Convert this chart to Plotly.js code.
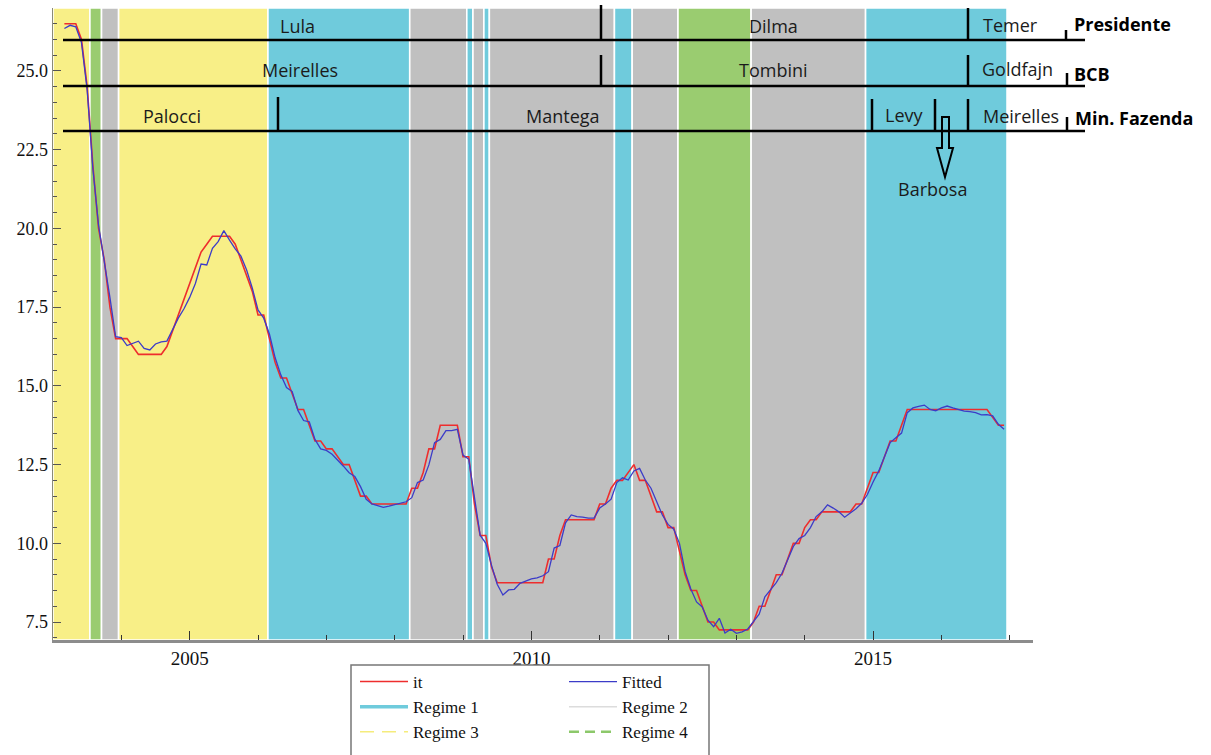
<!DOCTYPE html>
<html>
<head>
<meta charset="utf-8">
<script src="https://cdn.plot.ly/plotly-3.0.1.min.js"></script>
<style>html,body{margin:0;padding:0;background:#fff;}#chart{width:1211px;height:755px;}</style>
</head>
<body>
<div id="chart"></div>
<script>
// ---- data ----
var startYear = 2003, startMonth = 3; // first observation: March 2003, monthly

var itSeries = [
  26.5, 26.5, 26.5, 26.0, 24.5, 22.0, 20.0, 19.0, 17.5, 16.5,
  16.5, 16.5, 16.25, 16.0, 16.0, 16.0, 16.0, 16.0, 16.25, 16.75, 17.25, 17.75,
  18.25, 18.75, 19.25, 19.5, 19.75, 19.75, 19.75, 19.75, 19.5, 19.0, 18.5, 18.0,
  17.25, 17.25, 16.5, 15.75, 15.25, 15.25, 14.75, 14.25, 14.25, 13.75, 13.25, 13.25,
  13.0, 13.0, 12.75, 12.5, 12.5, 12.0, 11.5, 11.5, 11.25, 11.25, 11.25, 11.25,
  11.25, 11.25, 11.25, 11.75, 11.75, 12.25, 13.0, 13.0, 13.75, 13.75, 13.75, 13.75,
  12.75, 12.75, 11.25, 10.25, 10.25, 9.25, 8.75, 8.75, 8.75, 8.75, 8.75, 8.75,
  8.75, 8.75, 8.75, 9.5, 9.5, 10.25, 10.75, 10.75, 10.75, 10.75, 10.75, 10.75,
  11.25, 11.25, 11.75, 12.0, 12.0, 12.25, 12.5, 12.0, 12.0, 11.5, 11.0, 11.0,
  10.5, 10.5, 9.75, 9.0, 8.5, 8.5, 8.0, 7.5, 7.5, 7.25, 7.25, 7.25,
  7.25, 7.25, 7.25, 7.5, 8.0, 8.0, 8.5, 9.0, 9.0, 9.5, 10.0, 10.0,
  10.5, 10.75, 10.75, 11.0, 11.0, 11.0, 11.0, 11.0, 11.0, 11.25, 11.25, 11.75,
  12.25, 12.25, 12.75, 13.25, 13.25, 13.75, 14.25, 14.25, 14.25, 14.25, 14.25, 14.25,
  14.25, 14.25, 14.25, 14.25, 14.25, 14.25, 14.25, 14.25, 14.25, 14.0, 13.75, 13.75
];

var fittedSeries = [
  26.35, 26.45, 26.4, 25.9, 24.4, 21.9, 20.1, 19.0, 17.8, 16.56,
  16.53, 16.28, 16.35, 16.42, 16.19, 16.14, 16.33, 16.4, 16.42, 16.8, 17.15, 17.45,
  17.81, 18.25, 18.87, 18.84, 19.37, 19.58, 19.93, 19.63, 19.35, 19.12, 18.68, 18.1,
  17.41, 17.15, 16.65, 15.9, 15.35, 14.95, 14.82, 14.22, 13.9, 13.86, 13.3, 13.0,
  12.95, 12.83, 12.65, 12.45, 12.24, 12.12, 11.8, 11.4, 11.25, 11.2, 11.14, 11.18,
  11.22, 11.27, 11.32, 11.45, 11.93, 12.01, 12.49, 13.2, 13.3, 13.58, 13.58, 13.62,
  12.8, 12.67, 11.4, 10.26, 10.0, 9.3, 8.7, 8.36, 8.52, 8.54, 8.73, 8.8,
  8.87, 8.9, 8.97, 9.1, 9.85, 9.93, 10.65, 10.9, 10.85, 10.83, 10.8, 10.8,
  11.12, 11.25, 11.4, 11.93, 12.08, 12.01, 12.3, 12.38, 12.01, 11.75, 11.35, 10.9,
  10.6, 10.45, 10.0, 9.1, 8.55, 8.14, 7.98, 7.56, 7.35, 7.62, 7.15, 7.27,
  7.14, 7.19, 7.28, 7.5, 7.75, 8.3, 8.52, 8.75, 9.05, 9.5, 9.9, 10.15,
  10.25, 10.5, 10.85, 11.0, 11.22, 11.12, 11.0, 10.83, 10.97, 11.1, 11.27, 11.55,
  11.95, 12.3, 12.75, 13.2, 13.35, 13.5, 14.15, 14.3, 14.35, 14.39, 14.25, 14.21,
  14.3, 14.36, 14.3, 14.24, 14.2, 14.18, 14.15, 14.08, 14.09, 14.05, 13.78, 13.62
];

// regime periods (decimal years): band i spans regimeEdges[i]..regimeEdges[i+1]
var regimeEdges = [2003.0, 2003.54, 2003.71, 2003.96, 2006.145, 2008.22, 2009.055, 2009.145,
                   2009.305, 2009.385, 2011.215, 2011.475, 2012.145, 2013.215, 2014.89, 2016.96];
var regimeIds   = [3, 4, 2, 3, 1, 2, 1, 2, 1, 2, 1, 2, 4, 2, 1];
var regimeNames = ['Regime 1', 'Regime 2', 'Regime 3', 'Regime 4'];

var xTickLabels = ['2005', '2010', '2015'];

// ---- build ----
var xs = itSeries.map(function (_, i) { return startYear + (startMonth - 1 + i) / 12; });

var bandColors = {1: '#6fcbdc', 2: '#c0c0c0', 3: '#f8ef87', 4: '#9acc70'};
var shapes = [];
for (var i = 0; i < regimeIds.length; i++) {
  shapes.push({type: 'rect', xref: 'x', yref: 'paper', x0: regimeEdges[i], x1: regimeEdges[i + 1],
    y0: 0, y1: 1, fillcolor: bandColors[regimeIds[i]], line: {color: '#ffffff', width: 1.6}, layer: 'below'});
}

function P(px) { return (px - 53) / 980; }
function Q(py) { return (640 - py) / 632; }
function seg(x0, y0, x1, y1) {
  return {type: 'line', xref: 'paper', yref: 'paper', x0: P(x0), y0: Q(y0), x1: P(x1), y1: Q(y1),
          line: {color: '#000', width: 2.5}, layer: 'above'};
}
// office timelines
shapes.push(seg(63, 40, 1085, 40));
shapes.push(seg(63, 86, 1085, 86));
shapes.push(seg(63, 131, 1085, 131));
shapes.push(seg(601, 5, 601, 40));
shapes.push(seg(968, 8, 968, 40));
shapes.push(seg(1066, 30, 1066, 40));
shapes.push(seg(601, 55, 601, 86));
shapes.push(seg(968, 55, 968, 86));
shapes.push(seg(1067, 73, 1067, 86));
shapes.push(seg(278, 97, 278, 131));
shapes.push(seg(872, 99, 872, 131));
shapes.push(seg(935, 99, 935, 131));
shapes.push(seg(968, 99, 968, 131));
shapes.push(seg(1067, 117, 1067, 131));
// hollow arrow to Barbosa
shapes.push({type: 'path', xref: 'paper', yref: 'paper', layer: 'above',
  path: 'M' + P(942) + ',' + Q(117) + ' L' + P(949) + ',' + Q(117) + ' L' + P(949) + ',' + Q(148) +
        ' L' + P(953) + ',' + Q(148) + ' L' + P(945) + ',' + Q(177) + ' L' + P(937) + ',' + Q(148) +
        ' L' + P(942) + ',' + Q(148) + ' Z',
  line: {color: '#000', width: 2}, fillcolor: 'rgba(0,0,0,0)'});
// legend frame
shapes.push({type: 'rect', xref: 'paper', yref: 'paper', x0: P(351), x1: P(709), y0: Q(800), y1: Q(665),
  line: {color: '#777', width: 1.5}, fillcolor: 'rgba(0,0,0,0)', layer: 'above'});

var lblFont = {family: 'Open Sans, sans-serif', size: 18, color: '#1b1b1b'};
var boldFont = {family: 'Open Sans, sans-serif', size: 18, color: '#000'};
function ann(text, px, py, xanchor, font) {
  return {text: text, xref: 'paper', yref: 'paper', x: P(px), y: Q(py), xanchor: xanchor || 'center',
          yanchor: 'middle', showarrow: false, font: font || lblFont};
}
var annotations = [
  ann('Lula', 297, 26), ann('Dilma', 773, 26), ann('Temer', 1010, 25),
  ann('<b>Presidente</b>', 1072, 24, 'left', boldFont),
  ann('Meirelles', 300, 70), ann('Tombini', 773, 70), ann('Goldfajn', 1017, 69),
  ann('<b>BCB</b>', 1072, 74, 'left', boldFont),
  ann('Palocci', 172, 116), ann('Mantega', 563, 116), ann('Levy', 904, 115), ann('Meirelles', 1021, 116),
  ann('<b>Min. Fazenda</b>', 1073, 118, 'left', boldFont),
  ann('Barbosa', 932, 189)
];

var traces = [
  {x: xs, y: itSeries, type: 'scatter', mode: 'lines', name: 'it', legend: 'legend',
   line: {color: 'rgb(238,45,45)', width: 1.6}},
  {x: [null], y: [null], type: 'scatter', mode: 'lines', name: regimeNames[0], legend: 'legend',
   line: {color: '#6fcbdc', width: 3.5}},
  {x: [null], y: [null], type: 'scatter', mode: 'lines', name: regimeNames[2], legend: 'legend',
   line: {color: '#f5ec7c', width: 1.5, dash: '14px,8px'}},
  {x: xs, y: fittedSeries, type: 'scatter', mode: 'lines', name: 'Fitted', legend: 'legend2',
   line: {color: 'rgb(60,60,200)', width: 1.3}},
  {x: [null], y: [null], type: 'scatter', mode: 'lines', name: regimeNames[1], legend: 'legend2',
   line: {color: '#dcdcdc', width: 1.5}},
  {x: [null], y: [null], type: 'scatter', mode: 'lines', name: regimeNames[3], legend: 'legend2',
   line: {color: '#8cc86a', width: 2.5, dash: '10px,6px'}}
];

var legendFont = {family: 'Liberation Serif, Times New Roman, serif', size: 17, color: '#111'};
var layout = {
  width: 1211, height: 755,
  margin: {l: 53, r: 178, t: 8, b: 115, autoexpand: false},
  paper_bgcolor: '#fff', plot_bgcolor: '#fff',
  showlegend: true,
  legend: {x: P(355), y: Q(664), xanchor: 'left', yanchor: 'top', font: legendFont,
           bgcolor: 'rgba(0,0,0,0)', itemwidth: 48, tracegroupgap: 0, traceorder: 'normal'},
  legend2: {x: P(564), y: Q(664), xanchor: 'left', yanchor: 'top', font: legendFont,
           bgcolor: 'rgba(0,0,0,0)', itemwidth: 48, tracegroupgap: 0, traceorder: 'normal'},
  xaxis: {range: [2003.0, 2017.34], tickmode: 'array', tickvals: xTickLabels.map(Number), ticktext: xTickLabels,
          ticks: 'inside', ticklen: 9, tickwidth: 1, tickcolor: '#333',
          minor: {ticks: 'inside', tickmode: 'linear', tick0: 2003, dtick: 1, ticklen: 5, tickcolor: '#333', showgrid: false},
          showline: true, linecolor: '#8c8c8c', linewidth: 2.5, showgrid: false, zeroline: false,
          tickfont: {family: 'Liberation Serif, Times New Roman, serif', size: 19, color: '#111'}},
  yaxis: {range: [6.93, 27.0], tick0: 7.5, dtick: 2.5, tickformat: '.1f',
          ticks: 'inside', ticklen: 8, tickwidth: 1, tickcolor: '#555',
          minor: {ticks: 'inside', dtick: 0.5, ticklen: 4, tickcolor: '#555', showgrid: false},
          showline: true, linecolor: '#8a8a78', linewidth: 1.5, showgrid: false, zeroline: false,
          tickfont: {family: 'Liberation Serif, Times New Roman, serif', size: 18, color: '#111'}},
  shapes: shapes,
  annotations: annotations
};

Plotly.newPlot('chart', traces, layout, {displayModeBar: false, staticPlot: true});
</script>
</body>
</html>
